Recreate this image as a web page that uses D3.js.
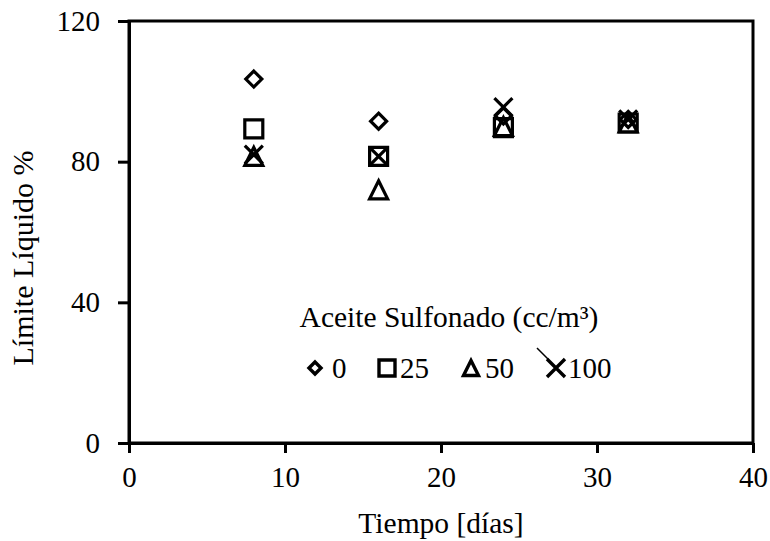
<!DOCTYPE html>
<html>
<head>
<meta charset="utf-8">
<script src="https://cdn.jsdelivr.net/npm/d3@7"></script>
<style>
  body { margin: 0; background: #fff; }
  text { font-family: 'Liberation Serif', 'Times New Roman', serif; fill: #000; }
</style>
</head>
<body>
<svg id="chart" width="770" height="541"></svg>
<script>
// data
const days = [8, 16, 24, 32];
const dose0 = [103.5, 91.5, 93, 92];
const dose25 = [89.3, 81.5, 89.7, 91];
const dose50 = [81.5, 72, 90, 91];
const dose100 = [82, 81.5, 95.5, 92];
const doseLabels = ['0', '25', '50', '100'];
const shapes = ['diamond', 'square', 'triangle', 'cross'];
const xTicks = [0, 10, 20, 30, 40];
const yTicks = [0, 40, 80, 120];

const series = [dose0, dose25, dose50, dose100].map((values, i) => ({
  name: doseLabels[i],
  shape: shapes[i],
  points: days.map((d, j) => ({ day: d, value: values[j] }))
}));

const svg = d3.select('#chart');
const margin = { left: 129, right: 17, top: 21, bottom: 98 };
const width = 770, height = 541;

const x = d3.scaleLinear().domain([0, 40]).range([margin.left, width - margin.right]);
const y = d3.scaleLinear().domain([0, 120]).range([height - margin.bottom, margin.top]);

// marker paths, centred on 0,0
function markerPath(shape, s) {
  const p = d3.path();
  if (shape === 'diamond') {
    p.moveTo(0, -s); p.lineTo(s, 0); p.lineTo(0, s); p.lineTo(-s, 0); p.closePath();
  } else if (shape === 'square') {
    p.rect(-s, -s, 2 * s, 2 * s);
  } else if (shape === 'triangle') {
    p.moveTo(0, -s); p.lineTo(s, s); p.lineTo(-s, s); p.closePath();
  } else {
    p.moveTo(-s, -s); p.lineTo(s, s); p.moveTo(s, -s); p.lineTo(-s, s);
  }
  return p.toString();
}
const markerSize = { diamond: 8, square: 9, triangle: 9, cross: 9 };
const markerStroke = { diamond: 3.2, square: 3.2, triangle: 3.2, cross: 3.2 };

// frame
svg.append('rect')
  .attr('x', x(0)).attr('y', y(120))
  .attr('width', x(40) - x(0)).attr('height', y(0) - y(120))
  .attr('fill', 'none').attr('stroke', '#000').attr('stroke-width', 3);

// axes
const xAxis = svg.append('g')
  .attr('transform', 'translate(0,' + y(0) + ')')
  .call(d3.axisBottom(x).tickValues(xTicks).tickSize(10).tickSizeOuter(0).tickPadding(13));
const yAxis = svg.append('g')
  .attr('transform', 'translate(' + x(0) + ',0)')
  .call(d3.axisLeft(y).tickValues(yTicks).tickSize(11).tickSizeOuter(0).tickPadding(18));

[xAxis, yAxis].forEach(g => {
  g.select('.domain').attr('stroke', '#000').attr('stroke-width', 3);
  g.selectAll('.tick line').attr('stroke', '#000').attr('stroke-width', 3);
  g.selectAll('.tick text')
    .attr('fill', '#000')
    .style('font-family', "'Liberation Serif', 'Times New Roman', serif")
    .style('font-size', '29px');
});

// axis titles
svg.append('text')
  .attr('x', x(20)).attr('y', 533)
  .attr('text-anchor', 'middle')
  .style('font-size', '29.5px')
  .text('Tiempo [días]');

svg.append('text')
  .attr('transform', 'translate(33,' + 258 + ') rotate(-90)')
  .attr('text-anchor', 'middle')
  .style('font-size', '30px')
  .text('Límite Líquido %');

// points
const groups = svg.selectAll('g.series')
  .data(series)
  .enter()
  .append('g')
  .attr('class', 'series');

groups.selectAll('path')
  .data(s => s.points.map(p => ({ ...p, shape: s.shape })))
  .enter()
  .append('path')
  .attr('transform', d => 'translate(' + x(d.day) + ',' + y(d.value) + ')')
  .attr('d', d => markerPath(d.shape, markerSize[d.shape]))
  .attr('fill', 'none')
  .attr('stroke', '#000')
  .attr('stroke-width', d => markerStroke[d.shape])
  .attr('stroke-linejoin', 'miter');

// legend
const legend = svg.append('g');
legend.append('text')
  .attr('x', 449).attr('y', 327)
  .attr('text-anchor', 'middle')
  .style('font-size', '29.5px')
  .text('Aceite Sulfonado (cc/m³)');

const legendX = [315, 387, 471, 556];
const legendY = 368;
const legendSize = { diamond: 6, square: 8, triangle: 7.5, cross: 9 };
const legendGap = { diamond: 17, square: 13, triangle: 14, cross: 12 };

series.forEach((s, i) => {
  const item = legend.append('g')
    .attr('transform', 'translate(' + legendX[i] + ',' + legendY + ')');
  item.append('path')
    .attr('d', markerPath(s.shape, legendSize[s.shape]))
    .attr('fill', 'none')
    .attr('stroke', '#000')
    .attr('stroke-width', 3.4);
  if (s.shape === 'cross') {
    item.append('line')
      .attr('x1', -19).attr('y1', -20).attr('x2', -8).attr('y2', -9)
      .attr('stroke', '#000').attr('stroke-width', 1.5);
  }
  item.append('text')
    .attr('x', legendGap[s.shape])
    .attr('y', 10)
    .style('font-size', '29px')
    .text(s.name);
});
</script>
</body>
</html>
